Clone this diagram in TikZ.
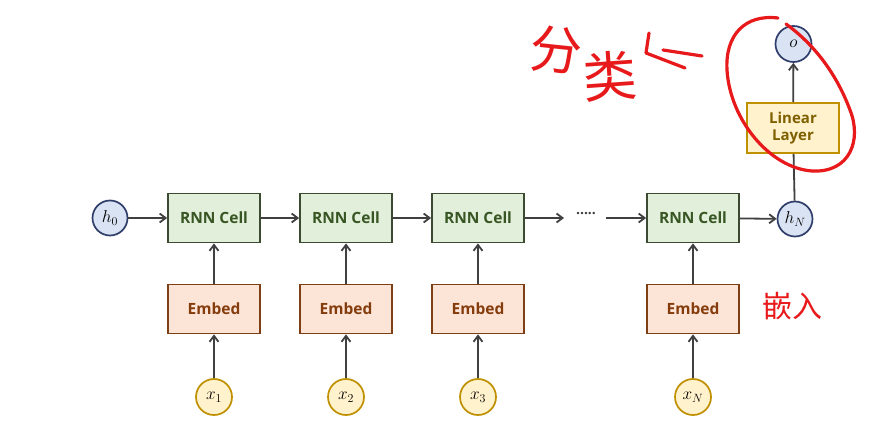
\documentclass[tikz,border=0pt]{standalone}
\usepackage{fontspec}
\setsansfont{Open Sans}
\newfontfamily\cjk{Noto Sans CJK SC}
\usetikzlibrary{arrows.meta}
\definecolor{rnnfill}{HTML}{E2EFDA}
\definecolor{rnnline}{HTML}{3B4A30}
\definecolor{rnntext}{HTML}{375623}
\definecolor{embfill}{HTML}{FCE4D6}
\definecolor{embline}{HTML}{7F3F14}
\definecolor{embtext}{HTML}{843C0C}
\definecolor{linfill}{HTML}{FFF2CC}
\definecolor{linline}{HTML}{BF9000}
\definecolor{lintext}{HTML}{7F6000}
\definecolor{hfill}{HTML}{DAE3F3}
\definecolor{hline}{HTML}{2F3E6B}
\definecolor{arr}{HTML}{404040}
\definecolor{ink}{HTML}{E8191B}
\tikzset{
  rnnbox/.style={draw=rnnline, fill=rnnfill, line width=1.7pt, minimum width=92pt, minimum height=49pt, inner sep=0pt, font=\sffamily\bfseries\fontsize{15.5}{17}\selectfont, text=rnntext},
  embbox/.style={draw=embline, fill=embfill, line width=1.7pt, minimum width=92pt, minimum height=49pt, inner sep=0pt, font=\sffamily\bfseries\fontsize{15.5}{17}\selectfont, text=embtext},
  linbox/.style={draw=linline, fill=linfill, line width=1.7pt, minimum width=92pt, minimum height=50pt, inner sep=0pt, align=center, font=\sffamily\bfseries\fontsize{15}{19}\selectfont, text=lintext},
  hcirc/.style={circle, draw=hline, fill=hfill, line width=1.7pt, minimum size=35pt, inner sep=0pt, font=\fontsize{18}{20}\selectfont},
  xcirc/.style={circle, draw=linline, fill=linfill, line width=1.7pt, minimum size=36pt, inner sep=0pt, font=\fontsize{18}{20}\selectfont},
  conn/.style={draw=arr, line width=1.8pt, -{Straight Barb[length=6pt,width=9pt]}},
  plain/.style={draw=arr, line width=1.8pt},
  hand/.style={draw=ink, line width=3.2pt, line cap=round, line join=round},
}
\begin{document}
\begin{tikzpicture}[x=1pt,y=-1pt]
\useasboundingbox[fill=white] (0,0) rectangle (881,438);
% top row
\node[hcirc] (h0) at (110,218) {$h_0$};
\node[rnnbox] (r1) at (214,218) {RNN Cell};
\node[rnnbox] (r2) at (346,218) {RNN Cell};
\node[rnnbox] (r3) at (478,218) {RNN Cell};
\node[rnnbox] (r4) at (693,218) {RNN Cell};
\node[hcirc] (hN) at (795,219) {$h_N$};
\node[font=\sffamily\bfseries\fontsize{14}{14}\selectfont, text=arr] (dots) at (586,214) {.....};
\coordinate (d1) at (564,218);
\coordinate (d2) at (606,218);
% embeds
\node[embbox] (e1) at (214,309) {Embed};
\node[embbox] (e2) at (346,309) {Embed};
\node[embbox] (e3) at (478,309) {Embed};
\node[embbox] (e4) at (693,309) {Embed};
% inputs
\node[xcirc] (x1) at (214,397) {$x_1$};
\node[xcirc] (x2) at (346,397) {$x_2$};
\node[xcirc] (x3) at (478,397) {$x_3$};
\node[xcirc] (x4) at (693,397) {$x_N$};
% linear + output
\node[linbox] (lin) at (793,128) {Linear\\[-2pt]Layer};
\node[hcirc, minimum size=36pt] (o) at (793.5,44) {$o$};
% connectors
\draw[conn] (h0) -- (r1);
\draw[conn] (r1) -- (r2);
\draw[conn] (r2) -- (r3);
\draw[conn] (r3.east) -- (d1);
\draw[conn] (d2) -- (r4.west);
\draw[conn] (r4) -- (hN);
\foreach \i in {1,2,3,4}{
  \draw[conn] (x\i) -- (e\i);
  \draw[conn] (e\i) -- (r\i);
}
\draw[plain] (hN) -- (lin);
\draw[conn] (lin) -- (o);
% handwritten annotations
\node[text=ink, font=\cjk\fontsize{52}{54}\selectfont, rotate=-6] (fen) at (556,50) {分};
\node[text=ink, font=\cjk\fontsize{54}{56}\selectfont, rotate=4] (lei) at (610,76) {类};
\draw[hand] (649,33) -- (646,53) -- (685,68);
\draw[hand] (663,50) -- (702,56);
\node[text=ink, font=\cjk\fontsize{30}{32}\selectfont] (qr) at (792,306) {嵌入};
\draw[hand] (778,18) .. controls (745,14) and (725,35) .. (727,70)
  .. controls (730,120) and (770,168) .. (812,171)
  .. controls (850,173) and (862,140) .. (850,110)
  .. controls (837,75) and (815,45) .. (786,24);
\end{tikzpicture}
\end{document}
